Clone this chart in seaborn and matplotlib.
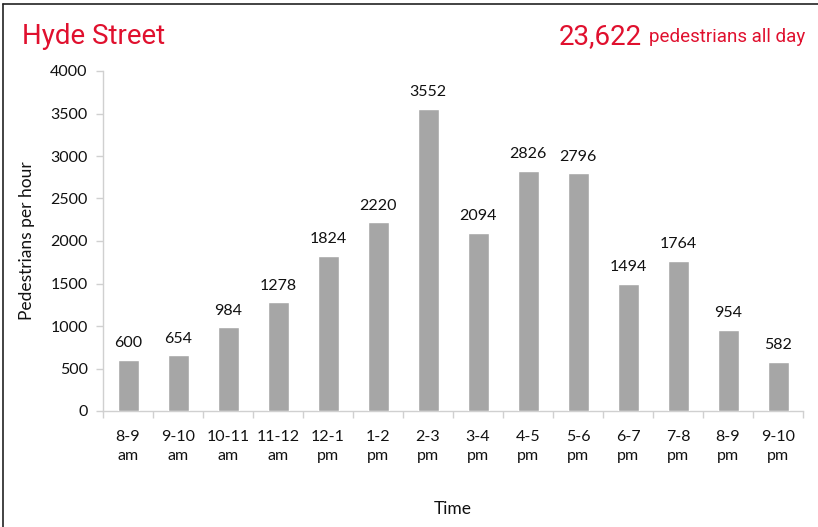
import matplotlib
matplotlib.use("Agg")
import matplotlib.pyplot as plt
import seaborn as sns
import pandas as pd
from matplotlib.lines import Line2D
from matplotlib.ticker import MultipleLocator, FixedLocator

categories = ["8-9\nam", "9-10\nam", "10-11\nam", "11-12\nam", "12-1\npm", "1-2\npm",
              "2-3\npm", "3-4\npm", "4-5\npm", "5-6\npm", "6-7\npm", "7-8\npm",
              "8-9\npm", "9-10\npm"]
values = [600, 654, 984, 1278, 1824, 2220, 3552, 2094, 2826, 2796, 1494, 1764, 954, 582]
title = "Hyde Street"
total_text = "23,622"
total_sub = "pedestrians all day"

sns.set_theme(style="white")
plt.rcParams['font.family'] = ['Lato', 'DejaVu Sans']

df = pd.DataFrame({"time": categories, "count": values})

fig = plt.figure(figsize=(8.18, 5.27), dpi=100)
ax = fig.add_axes([103/818, 1-411/527, 700/818, 340/527])

sns.barplot(data=df, x="time", y="count", color="#a6a6a6", width=0.42,
            saturation=1, ax=ax, zorder=3)

ax.set_ylim(0, 4000)
ax.set_xlim(-0.5, len(categories) - 0.5)
ax.yaxis.set_major_locator(MultipleLocator(500))

axis_col = "#d0d0d0"
for s in ["top", "right"]:
    ax.spines[s].set_visible(False)
for s in ["left", "bottom"]:
    ax.spines[s].set_color(axis_col)
    ax.spines[s].set_linewidth(1)

ax.tick_params(axis="y", which="major", length=5, width=1, color=axis_col,
               labelsize=11.5, labelcolor="#111111", pad=6, left=True, direction="out")
ax.tick_params(axis="x", which="major", length=0, labelsize=11.5, labelcolor="#111111", pad=14)
ax.xaxis.set_minor_locator(FixedLocator([i - 0.5 for i in range(len(categories) + 1)]))
ax.tick_params(axis="x", which="minor", length=5, width=1, color=axis_col,
               bottom=True, direction="out")
for lab in ax.get_xticklabels():
    lab.set_linespacing(1.45)

ax.set_xlabel("Time", fontsize=12.5, color="#111111", labelpad=27)
ax.set_ylabel("Pedestrians per hour", fontsize=12.5, color="#111111", labelpad=11)

for i, v in enumerate(values):
    ax.annotate(f"{v}", (i, v), xytext=(0, 7), textcoords="offset points",
                ha="center", va="bottom", fontsize=11.5, color="#111111")

red = "#e0102e"
tfam = ["Roboto", "DejaVu Sans"]
fig.text(22/818, 1-36/527, title, color=red, fontsize=20, va="center", ha="left",
         family=tfam, fontweight="normal")
t2 = fig.text(805/818, 1-37/527, total_sub, color=red, fontsize=13.5, va="center", ha="right",
              family=tfam, fontweight="normal")
fig.canvas.draw()
bb = t2.get_window_extent()
fig.text((bb.x0 - 7)/818, 1-37/527, total_text, color=red, fontsize=20, va="center", ha="right",
         family=tfam, fontweight="normal")

fig.add_artist(Line2D([3/818, 1], [1-4/527, 1-4/527], color="#222222", lw=1.2,
                      transform=fig.transFigure))
fig.add_artist(Line2D([3/818, 3/818], [0, 1-4/527], color="#222222", lw=1.2,
                      transform=fig.transFigure))

fig.savefig("out.png", dpi=100)
